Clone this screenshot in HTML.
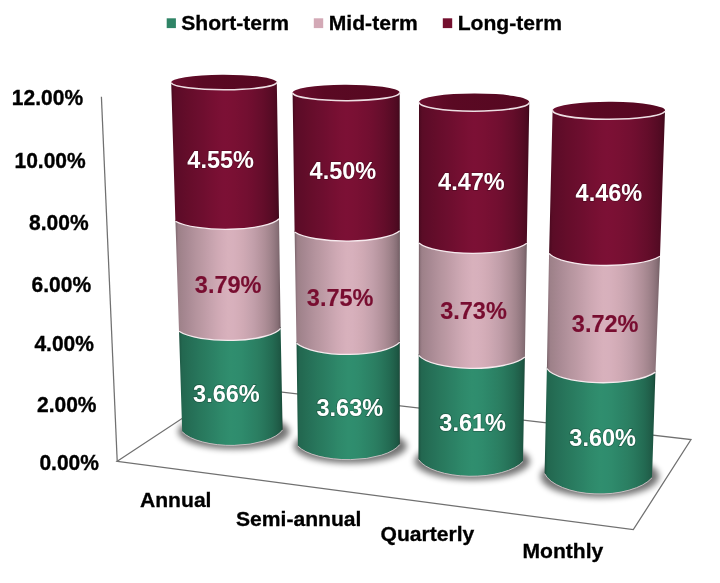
<!DOCTYPE html>
<html lang="en"><head><meta charset="utf-8"><title>Yield by compounding frequency</title>
<style>
html,body{margin:0;padding:0;background:#fff;}
body{width:720px;height:583px;overflow:hidden;font-family:"Liberation Sans",sans-serif;}
svg{display:block}
text{font-family:"Liberation Sans",sans-serif;font-weight:bold;}
.ax{font-size:21px;fill:#000;stroke:#000;stroke-width:0.35px}
.lg{font-size:21.1px;fill:#000;stroke:#000;stroke-width:0.3px}
.dl{font-size:23.5px;fill:#fff;stroke:rgba(0,0,0,0.2);stroke-width:1.8px;stroke-linejoin:round;paint-order:stroke fill}
.dm{font-size:23.5px;fill:#780d30;stroke:#780d30;stroke-width:0.15px}
</style></head><body>
<svg width="720" height="583" viewBox="0 0 720 583">
<defs>
<linearGradient id="gL" x1="0" x2="1" y1="0" y2="0"><stop offset="0" stop-color="#3e081a"/><stop offset="0.012" stop-color="#500a22"/><stop offset="0.03" stop-color="#5a0c26"/><stop offset="0.05" stop-color="#5c0c27"/><stop offset="0.1" stop-color="#600c29"/><stop offset="0.15" stop-color="#640d2a"/><stop offset="0.2" stop-color="#680d2c"/><stop offset="0.25" stop-color="#6b0e2e"/><stop offset="0.3" stop-color="#6f0e2f"/><stop offset="0.35" stop-color="#730f31"/><stop offset="0.4" stop-color="#770f32"/><stop offset="0.45" stop-color="#7a1034"/><stop offset="0.5" stop-color="#7c1035"/><stop offset="0.55" stop-color="#7b1034"/><stop offset="0.6" stop-color="#791033"/><stop offset="0.65" stop-color="#760f32"/><stop offset="0.7" stop-color="#730f31"/><stop offset="0.75" stop-color="#6f0e2f"/><stop offset="0.8" stop-color="#690e2d"/><stop offset="0.85" stop-color="#640d2a"/><stop offset="0.9" stop-color="#5c0c27"/><stop offset="0.94" stop-color="#550b24"/><stop offset="0.97" stop-color="#4e0a21"/><stop offset="0.988" stop-color="#47091e"/><stop offset="1" stop-color="#320615"/></linearGradient><linearGradient id="gM" x1="0" x2="1" y1="0" y2="0"><stop offset="0" stop-color="#6d595f"/><stop offset="0.012" stop-color="#8c727a"/><stop offset="0.03" stop-color="#9d8089"/><stop offset="0.05" stop-color="#a0838b"/><stop offset="0.1" stop-color="#a78892"/><stop offset="0.15" stop-color="#ae8e98"/><stop offset="0.2" stop-color="#b5949e"/><stop offset="0.25" stop-color="#bb99a3"/><stop offset="0.3" stop-color="#c29ea9"/><stop offset="0.35" stop-color="#c8a4af"/><stop offset="0.4" stop-color="#cfa9b4"/><stop offset="0.45" stop-color="#d4adb9"/><stop offset="0.5" stop-color="#d8b1bc"/><stop offset="0.55" stop-color="#d7b0bc"/><stop offset="0.6" stop-color="#d4adb8"/><stop offset="0.65" stop-color="#cfa9b4"/><stop offset="0.7" stop-color="#c8a4af"/><stop offset="0.75" stop-color="#c19ea9"/><stop offset="0.8" stop-color="#b896a0"/><stop offset="0.85" stop-color="#ae8e97"/><stop offset="0.9" stop-color="#a1848c"/><stop offset="0.94" stop-color="#947981"/><stop offset="0.97" stop-color="#876f76"/><stop offset="0.988" stop-color="#7c656c"/><stop offset="1" stop-color="#57474c"/></linearGradient><linearGradient id="gS" x1="0" x2="1" y1="0" y2="0"><stop offset="0" stop-color="#184838"/><stop offset="0.012" stop-color="#1f5c47"/><stop offset="0.03" stop-color="#236750"/><stop offset="0.05" stop-color="#236951"/><stop offset="0.1" stop-color="#256e55"/><stop offset="0.15" stop-color="#267259"/><stop offset="0.2" stop-color="#28775c"/><stop offset="0.25" stop-color="#297b5f"/><stop offset="0.3" stop-color="#2b7f63"/><stop offset="0.35" stop-color="#2c8366"/><stop offset="0.4" stop-color="#2e8869"/><stop offset="0.45" stop-color="#2f8b6c"/><stop offset="0.5" stop-color="#308e6e"/><stop offset="0.55" stop-color="#2f8d6e"/><stop offset="0.6" stop-color="#2f8b6c"/><stop offset="0.65" stop-color="#2d8769"/><stop offset="0.7" stop-color="#2c8366"/><stop offset="0.75" stop-color="#2b7f62"/><stop offset="0.8" stop-color="#29795e"/><stop offset="0.85" stop-color="#267258"/><stop offset="0.9" stop-color="#236a52"/><stop offset="0.94" stop-color="#21614b"/><stop offset="0.97" stop-color="#1e5945"/><stop offset="0.988" stop-color="#1b523f"/><stop offset="1" stop-color="#13392c"/></linearGradient>
<linearGradient id="gT" x1="0" x2="1" y1="0" y2="0">
<stop offset="0" stop-color="#6a0f2e"/><stop offset="0.3" stop-color="#5a0923"/><stop offset="1" stop-color="#560821"/>
</linearGradient>
<filter id="bl" x="-30%" y="-60%" width="160%" height="220%"><feGaussianBlur stdDeviation="3.2"/></filter>
</defs>
<rect width="720" height="583" fill="#fff"/>

<g fill="none" stroke="#707070" stroke-width="1.25" stroke-linejoin="miter">
<path d="M117.2 461.3 L230.9 386.3 L691 439.6 L633.3 529.7 Z"/>
<path d="M101.4 96.7 L117.2 461.3"/>
</g>
<ellipse cx="233.9" cy="431.55" rx="55.7" ry="17.5" fill="#000" opacity="0.55" filter="url(#bl)"/>
<ellipse cx="350.35" cy="446" rx="56.45" ry="17.3" fill="#000" opacity="0.55" filter="url(#bl)"/>
<ellipse cx="472.25" cy="461.2" rx="57.75" ry="18.7" fill="#000" opacity="0.55" filter="url(#bl)"/>
<ellipse cx="599.8" cy="476.4" rx="59.2" ry="21" fill="#000" opacity="0.55" filter="url(#bl)"/>
<path d="M179 329.7 L182.2 431.5 A52.84 21.08 0 0 0 282.6 429.6 L280.6 326.8 A53.47 15.12 0 0 1 179 329.7 Z" fill="url(#gS)"/>
<path d="M175.4 219.7 L179 331.2 A53.47 15.12 0 0 0 280.6 328.3 L279 217.3 A54.53 13.23 0 0 1 175.4 219.7 Z" fill="url(#gM)"/>
<path d="M171.2 82.6 L175.4 221.2 A54.53 13.23 0 0 0 279 218.8 L276.8 82 A52.8 7.5 0 0 1 171.2 82.6 Z" fill="url(#gL)"/>
<path d="M175.4 221.2 A54.53 13.23 0 0 0 279 218.8" fill="none" stroke="#f6eaee" stroke-width="1.3"/>
<path d="M179 331.2 A53.47 15.12 0 0 0 280.6 328.3" fill="none" stroke="#f6eaee" stroke-width="1.3"/>
<path d="M182.2 431.8 A52.84 21.08 0 0 0 282.6 429.9" fill="none" stroke="#c4c0c1" stroke-width="1"/>
<path d="M171.2 82.6 A52.8 7.5 0 0 1 276.8 82 A52.8 7.5 0 0 1 171.2 82.6 Z" fill="url(#gT)"/>
<path d="M171.2 82.6 A52.8 7.5 0 0 0 276.8 82" fill="none" stroke="#eddfe3" stroke-width="1.6"/>
<path d="M296.5 341.8 L297.9 445.8 A53.63 20.79 0 0 0 399.8 444.2 L399.8 340.6 A54.37 17.01 0 0 1 296.5 341.8 Z" fill="url(#gS)"/>
<path d="M294.6 230.5 L296.5 343.3 A54.37 17.01 0 0 0 399.8 342.1 L399.8 229.3 A55.37 13.96 0 0 1 294.6 230.5 Z" fill="url(#gM)"/>
<path d="M292.6 93 L294.6 232 A55.37 13.96 0 0 0 399.8 230.8 L399.7 92.4 A53.55 8 0 0 1 292.6 93 Z" fill="url(#gL)"/>
<path d="M294.6 232 A55.37 13.96 0 0 0 399.8 230.8" fill="none" stroke="#f6eaee" stroke-width="1.3"/>
<path d="M296.5 343.3 A54.37 17.01 0 0 0 399.8 342.1" fill="none" stroke="#f6eaee" stroke-width="1.3"/>
<path d="M297.9 446.1 A53.63 20.79 0 0 0 399.8 444.5" fill="none" stroke="#c4c0c1" stroke-width="1"/>
<path d="M292.6 93 A53.55 8 0 0 1 399.7 92.4 A53.55 8 0 0 1 292.6 93 Z" fill="url(#gT)"/>
<path d="M292.6 93 A53.55 8 0 0 0 399.7 92.4" fill="none" stroke="#eddfe3" stroke-width="1.6"/>
<path d="M418.7 353.9 L418.5 459.2 A55 22.83 0 0 0 523 461.2 L524.9 355.6 A55.89 17.45 0 0 1 418.7 353.9 Z" fill="url(#gS)"/>
<path d="M418.9 241.4 L418.7 355.4 A55.89 17.45 0 0 0 524.9 357.1 L526.8 241.8 A56.79 14.83 0 0 1 418.9 241.4 Z" fill="url(#gM)"/>
<path d="M419 102.2 L418.9 242.9 A56.79 14.83 0 0 0 526.8 243.3 L529.3 102.4 A55.15 8.9 0 0 1 419 102.2 Z" fill="url(#gL)"/>
<path d="M418.9 242.9 A56.79 14.83 0 0 0 526.8 243.3" fill="none" stroke="#f6eaee" stroke-width="1.3"/>
<path d="M418.7 355.4 A55.89 17.45 0 0 0 524.9 357.1" fill="none" stroke="#f6eaee" stroke-width="1.3"/>
<path d="M418.5 459.5 A55 22.83 0 0 0 523 461.5" fill="none" stroke="#c4c0c1" stroke-width="1"/>
<path d="M419 102.2 A55.15 8.9 0 0 1 529.3 102.4 A55.15 8.9 0 0 1 419 102.2 Z" fill="url(#gT)"/>
<path d="M419 102.2 A55.15 8.9 0 0 0 529.3 102.4" fill="none" stroke="#eddfe3" stroke-width="1.6"/>
<path d="M546.9 367 L544.6 473.3 A56.53 26.17 0 0 0 652 477.5 L655.5 370.6 A57.16 17.59 0 0 1 546.9 367 Z" fill="url(#gS)"/>
<path d="M549.1 251.8 L546.9 368.5 A57.16 17.59 0 0 0 655.5 372.1 L660 254.7 A58.37 15.27 0 0 1 549.1 251.8 Z" fill="url(#gM)"/>
<path d="M552.6 110 L549.1 253.3 A58.37 15.27 0 0 0 660 256.2 L665 111 A56.2 8.8 0 0 1 552.6 110 Z" fill="url(#gL)"/>
<path d="M549.1 253.3 A58.37 15.27 0 0 0 660 256.2" fill="none" stroke="#f6eaee" stroke-width="1.3"/>
<path d="M546.9 368.5 A57.16 17.59 0 0 0 655.5 372.1" fill="none" stroke="#f6eaee" stroke-width="1.3"/>
<path d="M544.6 473.6 A56.53 26.17 0 0 0 652 477.8" fill="none" stroke="#c4c0c1" stroke-width="1"/>
<path d="M552.6 110 A56.2 8.8 0 0 1 665 111 A56.2 8.8 0 0 1 552.6 110 Z" fill="url(#gT)"/>
<path d="M552.6 110 A56.2 8.8 0 0 0 665 111" fill="none" stroke="#eddfe3" stroke-width="1.6"/>
<rect x="166.7" y="18.3" width="9.2" height="9.8" fill="#2f8466"/>
<rect x="313.8" y="18.3" width="9.4" height="9.8" fill="#d3a9b6"/>
<rect x="442.8" y="18.3" width="9.4" height="9.8" fill="#74102f"/>
<text class="lg" x="181.2" y="29.9">Short-term</text>
<text class="lg" x="328.8" y="29.9">Mid-term</text>
<text class="lg" x="457.7" y="29.9">Long-term</text>
<text class="ax" text-anchor="end" transform="translate(83.05 104.6) scale(1 1.07)">12.00%</text>
<text class="ax" text-anchor="end" transform="translate(85.7 168.2) scale(1 1.07)">10.00%</text>
<text class="ax" text-anchor="end" transform="translate(88.6 230.3) scale(1 1.07)">8.00%</text>
<text class="ax" text-anchor="end" transform="translate(91.1 292) scale(1 1.07)">6.00%</text>
<text class="ax" text-anchor="end" transform="translate(93.9 351.2) scale(1 1.07)">4.00%</text>
<text class="ax" text-anchor="end" transform="translate(96.5 411.7) scale(1 1.07)">2.00%</text>
<text class="ax" text-anchor="end" transform="translate(98.9 469.8) scale(1 1.07)">0.00%</text>
<text class="dl" x="187.35" y="167.5">4.55%</text>
<text class="dl" x="309.6" y="179.4">4.50%</text>
<text class="dl" x="438.1" y="190.4">4.47%</text>
<text class="dl" x="575.6" y="201">4.46%</text>
<text class="dm" x="194.85" y="293.1">3.79%</text>
<text class="dm" x="306.85" y="305.9">3.75%</text>
<text class="dm" x="440.2" y="319">3.73%</text>
<text class="dm" x="571.85" y="332.25">3.72%</text>
<text class="dl" x="193.1" y="401.5">3.66%</text>
<text class="dl" x="316.5" y="415.6">3.63%</text>
<text class="dl" x="439.35" y="430.6">3.61%</text>
<text class="dl" x="569.35" y="446">3.60%</text>
<text class="lg" x="140" y="506.7">Annual</text>
<text class="lg" x="236" y="526.3">Semi-annual</text>
<text class="lg" x="380.5" y="541.1">Quarterly</text>
<text class="lg" x="522.5" y="558.4">Monthly</text>
</svg></body></html>
